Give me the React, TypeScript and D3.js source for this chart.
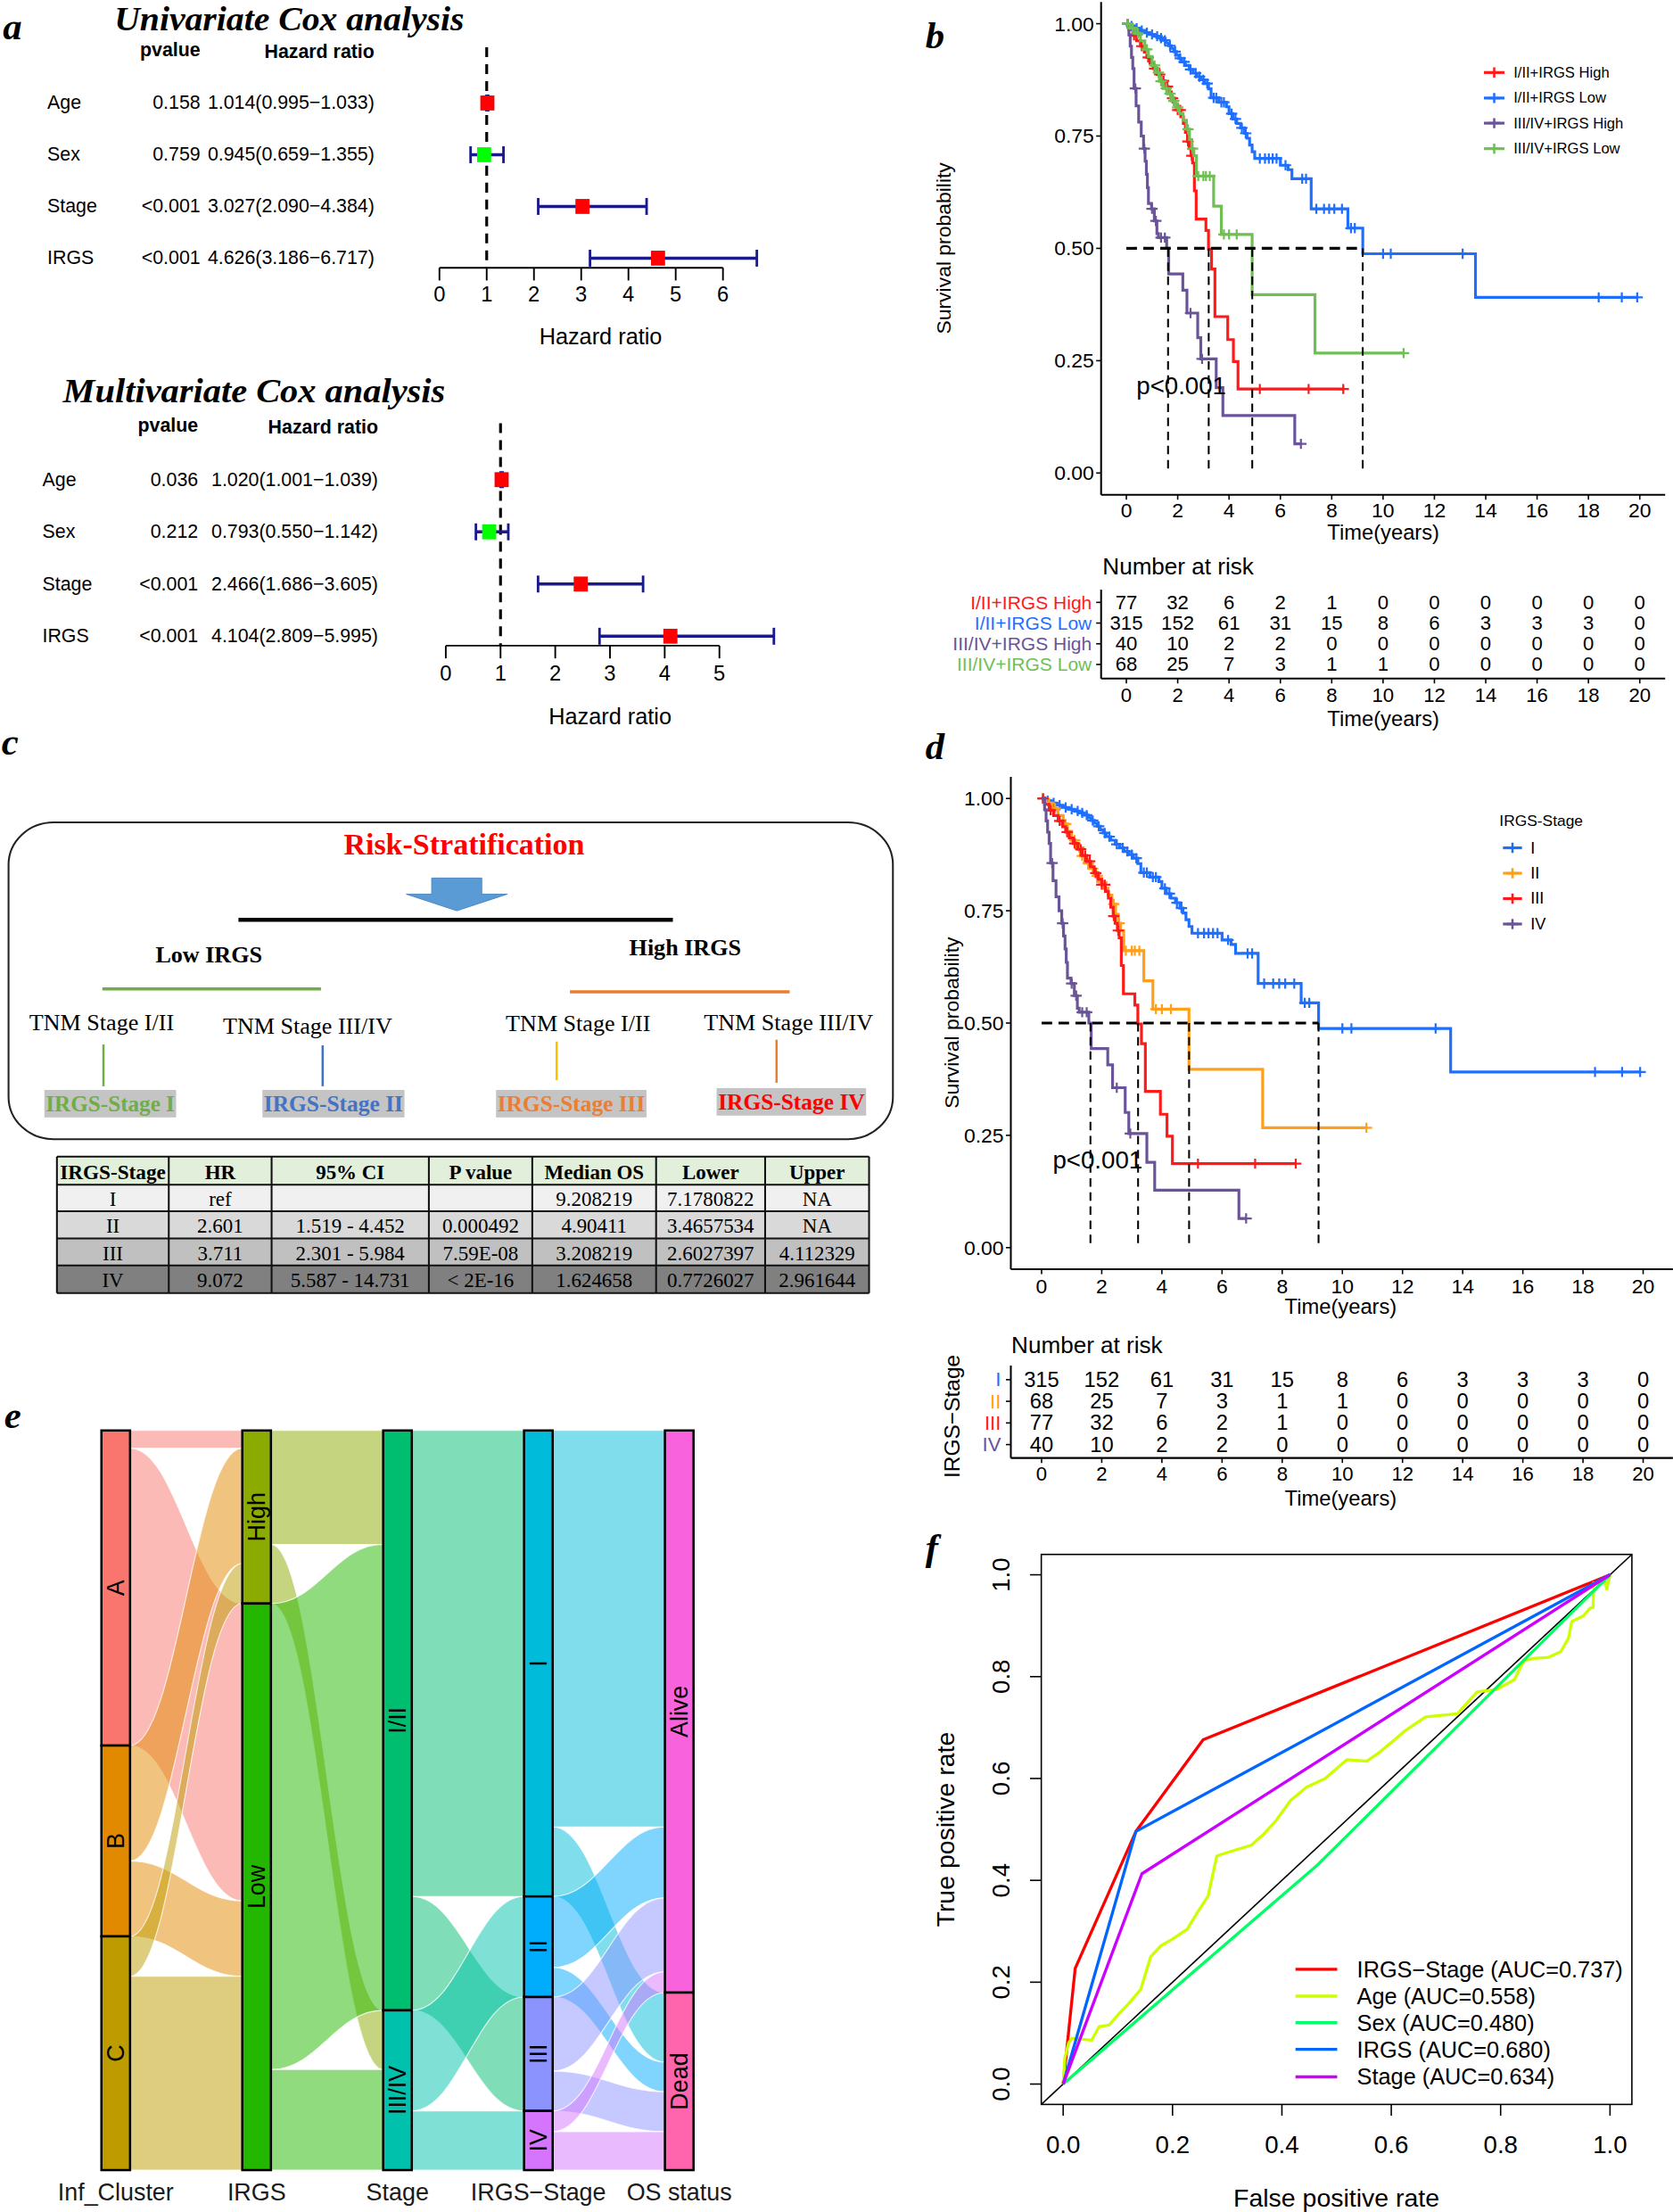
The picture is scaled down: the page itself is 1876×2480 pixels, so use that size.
import React, { useEffect } from "react";
import * as d3 from "d3";

const SANS = "'Liberation Sans', Arial, Helvetica, sans-serif";
const SERIF = "'Liberation Serif', 'Times New Roman', Times, serif";

// ---------------- Panel a : Cox analysis ----------------
const coxVars = ["Age", "Sex", "Stage", "IRGS"];
const coxBoxColors = ["#FF0000", "#00FF00", "#FF0000", "#FF0000"];
const uniP = ["0.158", "0.759", "<0.001", "<0.001"];
const uniHR = [1.014, 0.945, 3.027, 4.626];
const uniLow = [0.995, 0.659, 2.09, 3.186];
const uniHigh = [1.033, 1.355, 4.384, 6.717];
const multiP = ["0.036", "0.212", "<0.001", "<0.001"];
const multiHR = [1.02, 0.793, 2.466, 4.104];
const multiLow = [1.001, 0.55, 1.686, 2.809];
const multiHigh = [1.039, 1.142, 3.605, 5.995];
const uniTicks = [0, 1, 2, 3, 4, 5, 6];
const multiTicks = [0, 1, 2, 3, 4, 5];

// ---------------- Panels b / d : Kaplan-Meier ----------------
const kmTimeTicks = [0, 2, 4, 6, 8, 10, 12, 14, 16, 18, 20];
const kmSurvTicks = [0, 0.25, 0.5, 0.75, 1];
const medianTimes = [1.624658, 3.208219, 4.90411, 9.208219];

// IRGS-Stage I  (I/II + IRGS Low)
const s1Times = [0.1, 0.3, 0.5, 0.7, 0.9, 1.1, 1.25, 1.4, 1.55, 1.65, 1.75, 1.85, 1.95, 2.05, 2.15, 2.3, 2.45, 2.6, 2.75, 2.9, 3.05, 3.2, 3.3, 3.6, 3.9, 4.0, 4.15, 4.3, 4.45, 4.6, 4.7, 4.8, 4.9, 5.0, 6.0, 6.3, 6.45, 7.2, 8.63, 9.21, 13.6];
const s1Surv = [0.995, 0.99, 0.985, 0.98, 0.976, 0.972, 0.968, 0.963, 0.957, 0.951, 0.945, 0.938, 0.93, 0.923, 0.915, 0.907, 0.898, 0.89, 0.882, 0.875, 0.867, 0.855, 0.835, 0.825, 0.815, 0.8, 0.788, 0.778, 0.768, 0.756, 0.745, 0.73, 0.715, 0.7, 0.685, 0.675, 0.655, 0.588, 0.545, 0.488, 0.391];
const s1End = 19.9;
const s1Censor = [0.05, 0.2, 0.4, 0.6, 0.8, 1.0, 1.2, 1.35, 1.5, 1.7, 1.9, 2.1, 2.25, 2.5, 2.7, 2.85, 3.0, 3.15, 3.4, 3.5, 3.7, 3.8, 4.1, 4.25, 4.5, 4.65, 5.2, 5.4, 5.55, 5.7, 5.85, 6.2, 6.85, 7.0, 7.4, 7.7, 7.9, 8.1, 8.4, 8.75, 8.9, 10.0, 10.3, 13.1, 18.4, 19.3, 19.9];
// IRGS-Stage II (III/IV + IRGS Low)
const s2Times = [0.15, 0.35, 0.55, 0.72, 0.86, 1.0, 1.15, 1.29, 1.44, 1.6, 1.77, 1.92, 2.07, 2.21, 2.34, 2.46, 2.55, 2.63, 2.73, 3.4, 3.7, 4.9, 7.35];
const s2Surv = [0.99, 0.978, 0.962, 0.943, 0.927, 0.907, 0.891, 0.872, 0.856, 0.844, 0.828, 0.814, 0.8, 0.785, 0.765, 0.742, 0.722, 0.706, 0.661, 0.594, 0.531, 0.397, 0.267];
const s2End = 10.8;
const s2Censor = [0.05, 0.25, 0.45, 0.8, 1.1, 1.25, 1.35, 1.55, 1.7, 1.85, 2.0, 2.4, 2.58, 2.8, 3.0, 3.1, 3.25, 3.8, 4.0, 4.3, 10.8];
// IRGS-Stage III (I/II + IRGS High)
const s3Times = [0.1, 0.25, 0.4, 0.55, 0.7, 0.8, 0.92, 1.05, 1.2, 1.35, 1.5, 1.63, 1.75, 1.88, 2.0, 2.12, 2.22, 2.3, 2.38, 2.45, 2.52, 2.58, 2.65, 2.72, 3.1, 3.2, 3.32, 3.45, 3.95, 4.17, 4.35];
const s3Surv = [0.987, 0.974, 0.962, 0.95, 0.937, 0.925, 0.912, 0.9, 0.887, 0.873, 0.86, 0.848, 0.834, 0.82, 0.808, 0.793, 0.778, 0.758, 0.738, 0.722, 0.706, 0.69, 0.628, 0.565, 0.54, 0.498, 0.454, 0.348, 0.297, 0.248, 0.187];
const s3End = 8.45;
const s3Censor = [0.05, 0.3, 0.6, 0.85, 1.1, 1.3, 1.45, 1.6, 1.8, 2.0, 2.1, 2.4, 2.55, 5.2, 7.1, 8.45];
// IRGS-Stage IV (III/IV + IRGS High)
const s4Times = [0.1, 0.15, 0.2, 0.25, 0.3, 0.38, 0.48, 0.58, 0.67, 0.73, 0.78, 0.82, 0.86, 0.98, 1.09, 1.19, 1.25, 1.57, 1.65, 2.2, 2.36, 2.78, 2.9, 3.5, 3.76, 6.56];
const s4Surv = [0.975, 0.95, 0.925, 0.9, 0.856, 0.817, 0.781, 0.75, 0.722, 0.694, 0.665, 0.635, 0.6, 0.588, 0.561, 0.533, 0.524, 0.5, 0.443, 0.407, 0.356, 0.301, 0.254, 0.19, 0.128, 0.065];
const s4End = 6.8;
const s4Censor = [0.35, 0.7, 1.0, 1.15, 1.35, 1.5, 2.5, 2.95, 6.8];

const riskTimes = [0, 2, 4, 6, 8, 10, 12, 14, 16, 18, 20];
const riskS1 = [315, 152, 61, 31, 15, 8, 6, 3, 3, 3, 0];
const riskS2 = [68, 25, 7, 3, 1, 1, 0, 0, 0, 0, 0];
const riskS3 = [77, 32, 6, 2, 1, 0, 0, 0, 0, 0, 0];
const riskS4 = [40, 10, 2, 2, 0, 0, 0, 0, 0, 0, 0];

const bLabels = ["I/II+IRGS High", "I/II+IRGS Low", "III/IV+IRGS High", "III/IV+IRGS Low"];
const bColors = ["#FF1A1A", "#1F6FFF", "#6A5499", "#70BF55"];
const dLabels = ["I", "II", "III", "IV"];
const dColors = ["#1F6FFF", "#FF9F1A", "#FF1A1A", "#6A5499"];

// ---------------- Panel c : table ----------------
const tblHeader = ["IRGS-Stage", "HR", "95% CI", "P value", "Median OS", "Lower", "Upper"];
const tblStage = ["I", "II", "III", "IV"];
const tblHR = ["ref", "2.601", "3.711", "9.072"];
const tblCI = ["", "1.519 - 4.452", "2.301 - 5.984", "5.587 - 14.731"];
const tblP = ["", "0.000492", "7.59E-08", "< 2E-16"];
const tblMedian = ["9.208219", "4.90411", "3.208219", "1.624658"];
const tblLower = ["7.1780822", "3.4657534", "2.6027397", "0.7726027"];
const tblUpper = ["NA", "NA", "4.112329", "2.961644"];
const tblRowFill = ["#F0F0F0", "#D9D9D9", "#C0C0C0", "#808080"];

// ---------------- Panel e : alluvial ----------------
const alAxes = ["Inf_Cluster", "IRGS", "Stage", "IRGS\u2212Stage", "OS status"];
const alStrata = [["A", "B", "C"], ["High", "Low"], ["I/II", "III/IV"], ["I", "II", "III", "IV"], ["Alive", "Dead"]];
const alPalette = ["#F8766D", "#E18A00", "#BE9C00", "#8CAB00", "#24B700", "#00BE70", "#00C1AB", "#00BBDA", "#00ACFC", "#8B93FF", "#D575FE", "#F962DD", "#FF65AC"];
const alFlows01: [string, string, number][] = [["A", "High", 12], ["A", "Low", 201], ["B", "High", 78], ["B", "Low", 51], ["C", "High", 27], ["C", "Low", 131]];
const alFlows12: [string, string, number][] = [["High", "I/II", 77], ["High", "III/IV", 40], ["Low", "I/II", 315], ["Low", "III/IV", 68]];
const alFlows23: [string, string, number][] = [["I/II", "I", 315], ["I/II", "III", 77], ["III/IV", "II", 68], ["III/IV", "IV", 40]];
const alFlows34: [string, string, number][] = [["I", "Alive", 268], ["I", "Dead", 47], ["II", "Alive", 48], ["II", "Dead", 20], ["III", "Alive", 50], ["III", "Dead", 27], ["IV", "Alive", 14], ["IV", "Dead", 26]];

// ---------------- Panel f : ROC ----------------
const rocNames = ["IRGS\u2212Stage (AUC=0.737)", "Age (AUC=0.558)", "Sex (AUC=0.480)", "IRGS (AUC=0.680)", "Stage (AUC=0.634)"];
const rocColors = ["#FF0000", "#CCFF00", "#00FF66", "#0066FF", "#CC00FF"];
const rocIrgsStageFpr = [0, 0.022, 0.133, 0.256, 1];
const rocIrgsStageTpr = [0, 0.227, 0.496, 0.676, 1];
const rocAgeFpr = [0, 0.003, 0.01, 0.016, 0.052, 0.066, 0.084, 0.102, 0.119, 0.142, 0.16, 0.178, 0.199, 0.227, 0.245, 0.265, 0.281, 0.313, 0.344, 0.367, 0.389, 0.416, 0.445, 0.479, 0.519, 0.555, 0.578, 0.605, 0.623, 0.663, 0.721, 0.757, 0.793, 0.825, 0.843, 0.865, 0.888, 0.91, 0.924, 0.93, 0.951, 0.964, 0.969, 0.97, 0.991, 0.994, 1];
const rocAgeTpr = [0, 0.051, 0.081, 0.09, 0.086, 0.113, 0.116, 0.138, 0.157, 0.186, 0.25, 0.271, 0.284, 0.304, 0.336, 0.369, 0.448, 0.459, 0.469, 0.491, 0.517, 0.557, 0.583, 0.6, 0.637, 0.634, 0.651, 0.675, 0.692, 0.721, 0.727, 0.77, 0.775, 0.794, 0.832, 0.836, 0.838, 0.849, 0.875, 0.908, 0.919, 0.935, 0.935, 0.984, 0.984, 0.972, 1];
const rocSexFpr = [0, 0.465, 1];
const rocSexTpr = [0, 0.43, 1];
const rocIrgsFpr = [0, 0.133, 1];
const rocIrgsTpr = [0, 0.496, 1];
const rocStageFpr = [0, 0.144, 1];
const rocStageTpr = [0, 0.413, 1];
const rocTicks = [0, 0.2, 0.4, 0.6, 0.8, 1.0];

// ======================================================
function PanelLetter({ x, y, ch }: { x: number; y: number; ch: string }) {
  return (
    <text x={x} y={y} fontFamily={SERIF} fontWeight="bold" fontStyle="italic" fontSize={27}>
      {ch}
    </text>
  );
}

const NAVY = "#1A1A8C";

function Forest(p: any) {
  const xMax = p.ticks[p.ticks.length - 1];
  const x = d3.scaleLinear().domain([0, xMax]).range([p.x0, p.x1]);
  const y = d3.scalePoint<string>().domain(coxVars).range([p.rowTop, p.rowBottom]);
  const f = (v: number) => v.toFixed(3);
  const cap = 6;
  return (
    <g fontFamily={SANS}>
      <text x={p.titleX} y={p.titleBase} fontFamily={SERIF} fontWeight="bold" fontStyle="italic" fontSize={24} textLength={p.titleW} lengthAdjust="spacingAndGlyphs">
        {p.title}
      </text>
      <text x={p.pRight} y={p.headBase} textAnchor="end" fontWeight="bold" fontSize={13.5}>pvalue</text>
      <text x={p.hrRight} y={p.headBase + 1} textAnchor="end" fontWeight="bold" fontSize={13.5}>Hazard ratio</text>
      <line x1={x(1)} x2={x(1)} y1={p.dashTop} y2={p.axisY} stroke="#000" strokeWidth={2} strokeDasharray="7,5" />
      {coxVars.map((v, i) => {
        const yy = y(v)!;
        return (
          <g key={v}>
            <text x={p.labelX} y={yy} dominantBaseline="central" fontSize={13.5}>{v}</text>
            <text x={p.pRight} y={yy} dominantBaseline="central" textAnchor="end" fontSize={13.5}>{p.pvals[i]}</text>
            <text x={p.hrRight} y={yy} dominantBaseline="central" textAnchor="end" fontSize={13.5}>
              {`${f(p.hr[i])}(${f(p.lo[i])}\u2212${f(p.hi[i])})`}
            </text>
            <line x1={x(p.lo[i])} x2={x(p.hi[i])} y1={yy} y2={yy} stroke={NAVY} strokeWidth={2.2} />
            <line x1={x(p.lo[i])} x2={x(p.lo[i])} y1={yy - cap} y2={yy + cap} stroke={NAVY} strokeWidth={1.8} />
            <line x1={x(p.hi[i])} x2={x(p.hi[i])} y1={yy - cap} y2={yy + cap} stroke={NAVY} strokeWidth={1.8} />
            <rect x={x(p.hr[i]) - 5} y={yy - 5.3} width={10} height={10.6} fill={coxBoxColors[i]} />
          </g>
        );
      })}
      <line x1={x(0)} x2={x(xMax)} y1={p.axisY} y2={p.axisY} stroke="#000" strokeWidth={1.2} />
      {p.ticks.map((t: number) => (
        <g key={t}>
          <line x1={x(t)} x2={x(t)} y1={p.axisY} y2={p.axisY + 9} stroke="#000" strokeWidth={1.2} />
          <text x={x(t)} y={p.tickY} textAnchor="middle" dominantBaseline="central" fontSize={15}>{t}</text>
        </g>
      ))}
      <text x={p.axisTitleX} y={p.axisTitleY} textAnchor="middle" dominantBaseline="central" fontSize={16}>Hazard ratio</text>
    </g>
  );
}

function PanelA() {
  return (
    <g>
      <PanelLetter x={2} y={28} ch="a" />
      <Forest title="Univariate Cox analysis" titleX={81} titleBase={21.5} titleW={248}
        headBase={40} pRight={142} hrRight={265.4} labelX={33.5}
        rowTop={73} rowBottom={183} x0={311.5} x1={512.5} ticks={uniTicks}
        dashTop={33.5} axisY={189.8} tickY={208.6} axisTitleX={425.8} axisTitleY={238.5}
        pvals={uniP} hr={uniHR} lo={uniLow} hi={uniHigh} />
      <Forest title="Multivariate Cox analysis" titleX={44.6} titleBase={285} titleW={271}
        headBase={306} pRight={140.4} hrRight={268} labelX={30}
        rowTop={340} rowBottom={451} x0={316} x1={510} ticks={multiTicks}
        dashTop={300} axisY={457.7} tickY={477.4} axisTitleX={432.5} axisTitleY={508}
        pvals={multiP} hr={multiHR} lo={multiLow} hi={multiHigh} />
    </g>
  );
}

// ---------------- KM helpers ----------------
function stepPoints(times: number[], surv: number[], end: number): [number, number][] {
  const pts: [number, number][] = [[0, 1]];
  let s = 1;
  times.forEach((t, i) => {
    pts.push([t, s]);
    pts.push([t, surv[i]]);
    s = surv[i];
  });
  pts.push([end, s]);
  return pts;
}
function survAt(times: number[], surv: number[], t: number) {
  let s = 1;
  times.forEach((tt, i) => {
    if (tt <= t) s = surv[i];
  });
  return s;
}

const groupsByStage = [
  { times: s1Times, surv: s1Surv, end: s1End, censor: s1Censor, risk: riskS1 },
  { times: s2Times, surv: s2Surv, end: s2End, censor: s2Censor, risk: riskS2 },
  { times: s3Times, surv: s3Surv, end: s3End, censor: s3Censor, risk: riskS3 },
  { times: s4Times, surv: s4Surv, end: s4End, censor: s4Censor, risk: riskS4 },
];

function KMPlot(p: any) {
  const x = d3.scaleLinear().domain([0, 20]).range([p.tx0, p.tx20]);
  const y = d3.scaleLinear().domain([0, 1]).range([p.sy0, p.sy1]);
  const line = d3.line<[number, number]>().x((d) => x(d[0])).y((d) => y(d[1]));
  const medMax = d3.max(medianTimes)!;
  return (
    <g fontFamily={SANS}>
      <line x1={p.axisX} x2={p.axisX} y1={p.axisTop} y2={p.axisY} stroke="#000" strokeWidth={1.3} />
      <line x1={p.axisX} x2={p.axisRight} y1={p.axisY} y2={p.axisY} stroke="#000" strokeWidth={1.3} />
      {kmSurvTicks.map((v) => (
        <g key={v}>
          <line x1={p.axisX - 3.5} x2={p.axisX} y1={y(v)} y2={y(v)} stroke="#000" strokeWidth={1} />
          <text x={p.axisX - 5} y={y(v)} textAnchor="end" dominantBaseline="central" fontSize={14.5}>{v.toFixed(2)}</text>
        </g>
      ))}
      {kmTimeTicks.map((t) => (
        <g key={t}>
          <line x1={x(t)} x2={x(t)} y1={p.axisY} y2={p.axisY + 3.5} stroke="#000" strokeWidth={1} />
          <text x={x(t)} y={p.tickY} textAnchor="middle" dominantBaseline="central" fontSize={14.5}>{t}</text>
        </g>
      ))}
      <text x={p.xTitleX} y={p.xTitleY} textAnchor="middle" dominantBaseline="central" fontSize={15}>Time(years)</text>
      <text transform={`translate(${p.yTitleX},${p.yTitleY}) rotate(-90)`} textAnchor="middle" dominantBaseline="central" fontSize={14.5}>Survival probability</text>
      {p.order.map((gi: number) => {
        const g = groupsByStage[gi];
        const col = p.colors[gi];
        return (
          <g key={gi}>
            <path d={line(stepPoints(g.times, g.surv, g.end))!} fill="none" stroke={col} strokeWidth={2} />
            {g.censor.map((c: number, k: number) => {
              const cx = x(c), cy = y(survAt(g.times, g.surv, c));
              return (
                <path key={k} d={`M${cx - 4},${cy}H${cx + 4}M${cx},${cy - 3.6}V${cy + 3.6}`} stroke={col} strokeWidth={1.4} />
              );
            })}
          </g>
        );
      })}
      <line x1={x(0)} x2={x(medMax)} y1={y(0.5)} y2={y(0.5)} stroke="#000" strokeWidth={2} strokeDasharray="7.5,4.5" />
      {medianTimes.map((m) => (
        <line key={m} x1={x(m)} x2={x(m)} y1={y(0.5)} y2={y(0)} stroke="#000" strokeWidth={1.3} strokeDasharray="6,4" />
      ))}
      <text x={x(p.pvalT)} y={y(p.pvalS)} dominantBaseline="central" fontSize={17.5}>p&lt;0.001</text>
      {p.legendTitle ? (
        <text x={p.legTitleX} y={p.legTitleY} dominantBaseline="central" fontSize={11}>{p.legendTitle}</text>
      ) : null}
      {p.legendOrder.map((gi: number, k: number) => {
        const ly = p.legRows[k];
        const col = p.colors[gi];
        const mx = (p.legX0 + p.legX1) / 2;
        return (
          <g key={gi}>
            <line x1={p.legX0} x2={p.legX1} y1={ly} y2={ly} stroke={col} strokeWidth={2} />
            <path d={`M${mx - 4},${ly}H${mx + 4}M${mx},${ly - 3.6}V${ly + 3.6}`} stroke={col} strokeWidth={1.6} />
            <text x={p.legTextX} y={ly} dominantBaseline="central" fontSize={p.legFont}>{p.labels[gi]}</text>
          </g>
        );
      })}
    </g>
  );
}

function RiskTable(p: any) {
  const x = d3.scaleLinear().domain([0, 20]).range([p.tx0, p.tx20]);
  const y = d3.scalePoint<number>().domain(p.order).range([p.rowTop, p.rowBottom]);
  return (
    <g fontFamily={SANS}>
      <text x={p.titleX} y={p.titleY} dominantBaseline="central" fontSize={16.5}>Number at risk</text>
      <line x1={p.axisX} x2={p.axisX} y1={p.axisTop} y2={p.axisY} stroke="#000" strokeWidth={1.3} />
      <line x1={p.axisX} x2={p.axisRight} y1={p.axisY} y2={p.axisY} stroke="#000" strokeWidth={1.3} />
      {p.order.map((gi: number) => {
        const yy = y(gi)!;
        const g = groupsByStage[gi];
        return (
          <g key={gi}>
            <line x1={p.axisX - 3.5} x2={p.axisX} y1={yy} y2={yy} stroke="#000" strokeWidth={1} />
            <text x={p.labelRight} y={yy} textAnchor="end" dominantBaseline="central" fontSize={p.labelFont} fill={p.colors[gi]}>{p.labels[gi]}</text>
            {riskTimes.map((t, k) => (
              <text key={t} x={x(t)} y={yy} textAnchor="middle" dominantBaseline="central" fontSize={p.numFont}>{g.risk[k]}</text>
            ))}
          </g>
        );
      })}
      {kmTimeTicks.map((t) => (
        <g key={t}>
          <line x1={x(t)} x2={x(t)} y1={p.axisY} y2={p.axisY + 3.5} stroke="#000" strokeWidth={1} />
          <text x={x(t)} y={p.tickY} textAnchor="middle" dominantBaseline="central" fontSize={14}>{t}</text>
        </g>
      ))}
      <text x={p.xTitleX} y={p.xTitleY} textAnchor="middle" dominantBaseline="central" fontSize={15}>Time(years)</text>
      {p.yTitle ? (
        <text transform={`translate(${p.yTitleX},${p.yTitleY}) rotate(-90)`} textAnchor="middle" dominantBaseline="central" fontSize={15.5}>{p.yTitle}</text>
      ) : null}
    </g>
  );
}

// b uses group order: I/II High (s3), I/II Low (s1), III/IV High (s4), III/IV Low (s2)
const bLabelByStage = [bLabels[1], bLabels[3], bLabels[0], bLabels[2]];
const bColorByStage = [bColors[1], bColors[3], bColors[0], bColors[2]];

function PanelB() {
  return (
    <g>
      <PanelLetter x={656} y={34} ch="b" />
      <KMPlot tx0={798.5} tx20={1162.5} sy0={335.3} sy1={16.8}
        axisX={780.6} axisTop={1.5} axisY={350.7} axisRight={1180.5}
        tickY={361.5} xTitleX={980.7} xTitleY={377.5} yTitleX={669} yTitleY={176}
        order={[2, 0, 3, 1]} colors={bColorByStage} labels={bLabelByStage}
        pvalT={0.39} pvalS={0.194}
        legendOrder={[2, 0, 3, 1]} legRows={[51.4, 69.5, 87.3, 105.4]}
        legX0={1052} legX1={1066.6} legTextX={1073} legFont={10.5} />
      <RiskTable tx0={798.5} tx20={1162.5} order={[2, 0, 3, 1]} rowTop={427} rowBottom={471}
        colors={bColorByStage} labels={bLabelByStage} labelRight={774} labelFont={13.3} numFont={14}
        titleX={781.6} titleY={401.4} axisX={780.6} axisTop={418} axisY={481} axisRight={1180.5}
        tickY={493} xTitleX={980.7} xTitleY={509.5} />
    </g>
  );
}

function PanelD() {
  return (
    <g>
      <PanelLetter x={656} y={538} ch="d" />
      <KMPlot tx0={738.4} tx20={1164.9} sy0={884.4} sy1={566}
        axisX={716.6} axisTop={550.7} axisY={899.7} axisRight={1186}
        tickY={911.6} xTitleX={950.5} xTitleY={926} yTitleX={674.6} yTitleY={725}
        order={[0, 1, 2, 3]} colors={dColors} labels={dLabels}
        pvalT={0.37} pvalS={0.195}
        legendTitle="IRGS-Stage" legTitleX={1063} legTitleY={582}
        legendOrder={[0, 1, 2, 3]} legRows={[601, 619, 637, 655]}
        legX0={1065.5} legX1={1079} legTextX={1085} legFont={11.5} />
      <RiskTable tx0={738.4} tx20={1164.9} order={[0, 1, 2, 3]} rowTop={978} rowBottom={1024}
        colors={dColors} labels={dLabels} labelRight={709.6} labelFont={14} numFont={15}
        titleX={717} titleY={953.2} axisX={716.6} axisTop={968} axisY={1033.5} axisRight={1186}
        tickY={1045} xTitleX={950.5} xTitleY={1062}
        yTitle={"IRGS\u2212Stage"} yTitleX={674.6} yTitleY={1004} />
    </g>
  );
}

// ---------------- Panel c ----------------
function PanelC() {
  const cols = [40.3, 119.6, 192.5, 304, 377.3, 465.1, 542.4, 616.1];
  const rows = [819.9, 839.8, 858.6, 877.9, 897, 916.6];
  const body = tblStage.map((s, i) => [s, tblHR[i], tblCI[i], tblP[i], tblMedian[i], tblLower[i], tblUpper[i]]);
  return (
    <g fontFamily={SERIF}>
      <PanelLetter x={1} y={535} ch="c" />
      <rect x={6} y={583} width={627} height={224.5} rx={32} ry={30} fill="none" stroke="#222" strokeWidth={1.3} />
      <text x={329} y={606} textAnchor="middle" fontWeight="bold" fontSize={21.5} fill="#FF0000">Risk-Stratification</text>
      <polygon points="306,622.4 341.5,622.4 341.5,633.8 359.6,633.8 323.8,645.6 288,633.8 306,633.8" fill="#5B9BD5" stroke="#4A84BE" strokeWidth={0.6} />
      <line x1={169} x2={477} y1={652} y2={652} stroke="#000" strokeWidth={2.8} />
      <text x={148} y={682.3} textAnchor="middle" fontWeight="bold" fontSize={16.5}>Low IRGS</text>
      <text x={485.7} y={677} textAnchor="middle" fontWeight="bold" fontSize={16.5}>High IRGS</text>
      <line x1={72.5} x2={227.5} y1={701} y2={701} stroke="#70AD47" strokeWidth={2.2} />
      <line x1={404} x2={559.8} y1={703} y2={703} stroke="#ED7D31" strokeWidth={2.2} />
      <text x={72} y={730} textAnchor="middle" fontSize={16.5}>TNM Stage I/II</text>
      <text x={218} y={732.6} textAnchor="middle" fontSize={16.5}>TNM Stage III/IV</text>
      <text x={409.8} y={730.6} textAnchor="middle" fontSize={16.5}>TNM Stage I/II</text>
      <text x={559} y={730} textAnchor="middle" fontSize={16.5}>TNM Stage III/IV</text>
      <line x1={73.3} x2={73.3} y1={740.4} y2={770} stroke="#70AD47" strokeWidth={1.6} />
      <line x1={228.7} x2={228.7} y1={741} y2={770} stroke="#4472C4" strokeWidth={1.6} />
      <line x1={394.6} x2={394.6} y1={738.3} y2={765.7} stroke="#FFC000" strokeWidth={1.6} />
      <line x1={550.5} x2={550.5} y1={737} y2={767.5} stroke="#ED7D31" strokeWidth={1.6} />
      {[
        { x0: 31.4, x1: 124.8, y0: 772.6, t: "IRGS-Stage I", c: "#70AD47" },
        { x0: 186, x1: 286.7, y0: 772.6, t: "IRGS-Stage II", c: "#4472C4" },
        { x0: 351.6, x1: 458.3, y0: 772.6, t: "IRGS-Stage III", c: "#ED7D31" },
        { x0: 508, x1: 614, y0: 771.3, t: "IRGS-Stage IV", c: "#FF0000" },
      ].map((b) => (
        <g key={b.t}>
          <rect x={b.x0} y={b.y0} width={b.x1 - b.x0} height={19.5} fill="#C4C4C4" />
          <text x={(b.x0 + b.x1) / 2} y={b.y0 + 15} textAnchor="middle" fontWeight="bold" fontSize={16} fill={b.c} textLength={b.x1 - b.x0 - 2} lengthAdjust="spacingAndGlyphs">{b.t}</text>
        </g>
      ))}
      <rect x={cols[0]} y={rows[0]} width={cols[7] - cols[0]} height={rows[1] - rows[0]} fill="#E2EFDA" />
      {tblRowFill.map((f, i) => (
        <rect key={i} x={cols[0]} y={rows[i + 1]} width={cols[7] - cols[0]} height={rows[i + 2] - rows[i + 1]} fill={f} />
      ))}
      {tblHeader.map((h, j) => (
        <text key={h} x={(cols[j] + cols[j + 1]) / 2} y={(rows[0] + rows[1]) / 2 + 1} textAnchor="middle" dominantBaseline="central" fontWeight="bold" fontSize={14.5}
          textLength={h === "IRGS-Stage" ? 75 : undefined} lengthAdjust="spacingAndGlyphs">{h}</text>
      ))}
      {body.map((r, i) =>
        r.map((v, j) => (
          <text key={`${i}-${j}`} x={(cols[j] + cols[j + 1]) / 2} y={(rows[i + 1] + rows[i + 2]) / 2 + 1} textAnchor="middle" dominantBaseline="central" fontSize={14.5}>{v}</text>
        ))
      )}
      {rows.map((ry, i) => (
        <line key={`h${i}`} x1={cols[0]} x2={cols[7]} y1={ry} y2={ry} stroke="#111" strokeWidth={1.3} />
      ))}
      {cols.map((cx, i) => (
        <line key={`v${i}`} x1={cx} x2={cx} y1={rows[0]} y2={rows[5]} stroke="#111" strokeWidth={1.3} />
      ))}
    </g>
  );
}

// ---------------- Panel e ----------------
function PanelE() {
  const flowsAll = [alFlows01, alFlows12, alFlows23, alFlows34];
  const total = d3.sum(alFlows01, (f) => f[2]);
  const y = d3.scaleLinear().domain([0, total]).range([1014, 1538.3]);
  const ax = d3.scalePoint<string>().domain(alAxes).range([82, 481.5]);
  const w = 20.3;
  const sizes = alStrata.map((strata, k) =>
    strata.map((s) =>
      k < flowsAll.length
        ? d3.sum(flowsAll[k].filter((f) => f[0] === s), (f) => f[2])
        : d3.sum(flowsAll[k - 1].filter((f) => f[1] === s), (f) => f[2])
    )
  );
  const starts = sizes.map((arr) => {
    let c = 0;
    return arr.map((v) => {
      const s = c;
      c += v;
      return s;
    });
  });
  const colorOf: Record<string, string> = {};
  let ci = 0;
  alStrata.forEach((arr, k) => arr.forEach((s) => { colorOf[`${k}:${s}`] = alPalette[ci++]; }));

  const flowPaths: { d: string; c: string }[] = [];
  flowsAll.forEach((flows, k) => {
    const L = alStrata[k], R = alStrata[k + 1];
    const outOff: Record<string, number> = {};
    const inOff: Record<string, number> = {};
    L.forEach((s, i) => (outOff[s] = starts[k][i]));
    R.forEach((s, i) => (inOff[s] = starts[k + 1][i]));
    const outSorted = [...flows].sort((a, b) => L.indexOf(a[0]) - L.indexOf(b[0]) || R.indexOf(a[1]) - R.indexOf(b[1]));
    const pos = new Map<any, number[]>();
    outSorted.forEach((f) => {
      pos.set(f, [outOff[f[0]], 0]);
      outOff[f[0]] += f[2];
    });
    const inSorted = [...flows].sort((a, b) => R.indexOf(a[1]) - R.indexOf(b[1]) || L.indexOf(a[0]) - L.indexOf(b[0]));
    inSorted.forEach((f) => {
      pos.get(f)![1] = inOff[f[1]];
      inOff[f[1]] += f[2];
    });
    const xa = ax(alAxes[k])! + w / 2;
    const xb = ax(alAxes[k + 1])! - w / 2;
    const c1 = xa + (xb - xa) * 0.42;
    const c2 = xb - (xb - xa) * 0.42;
    flows.forEach((f) => {
      const [o, i2] = pos.get(f)!;
      const ya0 = y(o), ya1 = y(o + f[2]);
      const yb0 = y(i2), yb1 = y(i2 + f[2]);
      const p = d3.path();
      p.moveTo(xa, ya0);
      p.bezierCurveTo(c1, ya0, c2, yb0, xb, yb0);
      p.lineTo(xb, yb1);
      p.bezierCurveTo(c2, yb1, c1, ya1, xa, ya1);
      p.closePath();
      flowPaths.push({ d: p.toString(), c: colorOf[`${k}:${f[0]}`] });
    });
  });

  return (
    <g fontFamily={SANS}>
      <PanelLetter x={3} y={1012} ch="e" />
      {flowPaths.map((fp, i) => (
        <path key={i} d={fp.d} fill={fp.c} fillOpacity={0.5} stroke="#fff" strokeWidth={0.7} strokeOpacity={0.8} />
      ))}
      {alStrata.map((arr, k) =>
        arr.map((s, i) => {
          const y0 = y(starts[k][i]), y1 = y(starts[k][i] + sizes[k][i]);
          const cx = ax(alAxes[k])!;
          return (
            <g key={`${k}-${s}`}>
              <rect x={cx - w / 2} y={y0} width={w} height={y1 - y0} fill={colorOf[`${k}:${s}`]} stroke="#000" strokeWidth={1.6} />
              <text transform={`translate(${cx},${(y0 + y1) / 2}) rotate(-90)`} textAnchor="middle" dominantBaseline="central" fontSize={17}>{s}</text>
            </g>
          );
        })
      )}
      {alAxes.map((a) => (
        <text key={a} x={ax(a)} y={1553.8} textAnchor="middle" dominantBaseline="central" fontSize={17} fill="#1a1a1a">{a}</text>
      ))}
    </g>
  );
}

// ---------------- Panel f ----------------
function PanelF() {
  const x = d3.scaleLinear().domain([0, 1]).range([753.7, 1141.4]);
  const y = d3.scaleLinear().domain([0, 1]).range([1477.3, 1116.3]);
  const bx0 = x(-0.04), bx1 = x(1.04), by0 = y(-0.04), by1 = y(1.04);
  const curves = [
    [rocIrgsStageFpr, rocIrgsStageTpr],
    [rocAgeFpr, rocAgeTpr],
    [rocSexFpr, rocSexTpr],
    [rocIrgsFpr, rocIrgsTpr],
    [rocStageFpr, rocStageTpr],
  ];
  const legRows = [1396, 1415, 1433.8, 1452.7, 1472.2];
  return (
    <g fontFamily={SANS}>
      <PanelLetter x={656} y={1106} ch="f" />
      <line x1={bx0} y1={by0} x2={bx1} y2={by1} stroke="#000" strokeWidth={1} />
      {curves.map(([fx, ty], i) => {
        const ln = d3.line<number>().x((_, k) => x(fx[k])).y((_, k) => y(ty[k]));
        return <path key={i} d={ln(fx)!} fill="none" stroke={rocColors[i]} strokeWidth={2.1} strokeLinejoin="round" />;
      })}
      <rect x={bx0} y={by1} width={bx1 - bx0} height={by0 - by1} fill="none" stroke="#000" strokeWidth={1} />
      {rocTicks.map((t) => (
        <g key={t}>
          <line x1={x(t)} x2={x(t)} y1={by0} y2={by0 + 8} stroke="#000" strokeWidth={1} />
          <text x={x(t)} y={1520.4} textAnchor="middle" dominantBaseline="central" fontSize={17.5}>{t.toFixed(1)}</text>
          <line x1={bx0 - 8} x2={bx0} y1={y(t)} y2={y(t)} stroke="#000" strokeWidth={1} />
          <text transform={`translate(709.5,${y(t)}) rotate(-90)`} textAnchor="middle" dominantBaseline="central" fontSize={17.5}>{t.toFixed(1)}</text>
        </g>
      ))}
      <text x={947.4} y={1558.2} textAnchor="middle" dominantBaseline="central" fontSize={18}>False positive rate</text>
      <text transform={`translate(670.4,1296.8) rotate(-90)`} textAnchor="middle" dominantBaseline="central" fontSize={18}>True positive rate</text>
      {rocNames.map((n, i) => (
        <g key={n}>
          <line x1={918.4} x2={948} y1={legRows[i]} y2={legRows[i]} stroke={rocColors[i]} strokeWidth={2.1} />
          <text x={962} y={legRows[i]} dominantBaseline="central" fontSize={16}>{n}</text>
        </g>
      ))}
    </g>
  );
}

export default function App() {
  useEffect(() => {
    document.body.style.margin = "0";
  }, []);
  return (
    <svg width={1876} height={2480} viewBox="0 0 1186 1568" xmlns="http://www.w3.org/2000/svg"
      style={{ position: "absolute", left: 0, top: 0, display: "block", background: "#fff" }}>
      <rect x={0} y={0} width={1186} height={1568} fill="#fff" />
      <PanelA />
      <PanelB />
      <PanelC />
      <PanelD />
      <PanelE />
      <PanelF />
    </svg>
  );
}
